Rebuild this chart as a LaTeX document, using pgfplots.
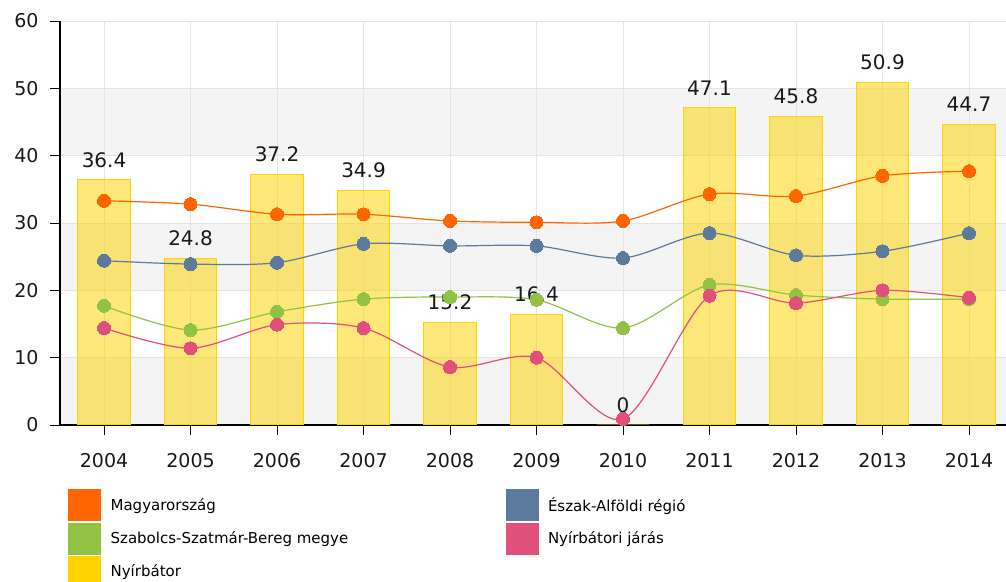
\documentclass[border=0pt]{standalone}
\usepackage{fontspec}
\setmainfont{DejaVu Sans}
\usepackage{pgfplots}
\pgfplotsset{compat=1.18}
\definecolor{cOr}{RGB}{255,102,0}
\definecolor{cBl}{RGB}{92,122,155}
\definecolor{cGr}{RGB}{146,194,68}
\definecolor{cPk}{RGB}{224,80,122}
\definecolor{cYe}{RGB}{255,210,0}
\definecolor{cBand}{RGB}{244,244,244}
\definecolor{cGrid}{RGB}{228,228,228}
\pgfplotsset{sq/.style={legend image code/.code={\fill[#1] (0pt,-15.5pt) rectangle (32pt,15.5pt);}}}
\begin{document}
\begin{tikzpicture}
\begin{axis}[
  at={(60pt,156pt)}, anchor=south west, scale only axis,
  width=946pt, height=404pt,
  set layers=standard,
  xmin=-0.509, xmax=10.428, ymin=0, ymax=60,
  axis x line*=bottom, axis y line*=left,
  axis line style={black, line width=1.1pt},
  xtick={0,...,10}, xticklabels={2004,2005,2006,2007,2008,2009,2010,2011,2012,2013,2014},
  ytick={0,10,...,60},
  grid=major, major grid style={cGrid, line width=0.9pt},
  tick align=outside, major tick length=10pt,
  tick style={black, line width=0.9pt},
  /pgf/number format/assume math mode=true,
  ticklabel style={font=\fontsize{19}{21}\selectfont, text=black!90},
  xticklabel style={yshift=-15pt},
  yticklabel style={xshift=-8pt},
  legend columns=2, legend cell align=left,
  legend style={at={(rel axis cs:0,0)}, anchor=north west, xshift=8pt, yshift=-64pt,
    draw=none, fill=none, inner sep=0pt, row sep=2pt,
    font=\fontsize{15}{17}\selectfont,
    nodes={inner sep=0pt},
    /tikz/every odd column/.append style={column sep=10pt}},
]
\begin{pgfonlayer}{axis background}
\fill[cBand] (axis cs:-0.509,0) rectangle (axis cs:10.428,10);
\fill[cBand] (axis cs:-0.509,20) rectangle (axis cs:10.428,30);
\fill[cBand] (axis cs:-0.509,40) rectangle (axis cs:10.428,50);
\end{pgfonlayer}
% Nyirbator bars
\addplot[ybar, bar width=0.61, draw=cYe, line width=1pt, fill=cYe, fill opacity=0.52,
  nodes near coords,
  nodes near coords style={font=\fontsize{20}{22}\selectfont, text=black!90, text opacity=1, inner sep=0pt, anchor=south, yshift=12pt},
  forget plot] coordinates {
(0,36.4) (1,24.8) (2,37.2) (3,34.9) (4,15.2) (5,16.4) (6,0) (7,47.1) (8,45.8) (9,50.9) (10,44.7)};
% Magyarorszag
\addplot[cOr, line width=1.2pt, smooth, mark=*, mark size=6.5pt, mark options={fill=cOr, draw=cOr, line width=0pt}, forget plot] coordinates {
(0,33.3) (1,32.8) (2,31.3) (3,31.3) (4,30.3) (5,30.1) (6,30.3) (7,34.3) (8,34.0) (9,37.0) (10,37.7)};
% Eszak-Alfold
\addplot[cBl, line width=1.2pt, smooth, mark=*, mark size=6.5pt, mark options={fill=cBl, draw=cBl, line width=0pt}, forget plot] coordinates {
(0,24.4) (1,23.9) (2,24.1) (3,26.9) (4,26.6) (5,26.6) (6,24.8) (7,28.5) (8,25.2) (9,25.8) (10,28.5)};
% Szabolcs
\addplot[cGr, line width=1.2pt, smooth, mark=*, mark size=6.5pt, mark options={fill=cGr, draw=cGr, line width=0pt}, forget plot] coordinates {
(0,17.7) (1,14.1) (2,16.8) (3,18.7) (4,19.0) (5,18.6) (6,14.4) (7,20.8) (8,19.3) (9,18.7) (10,18.7)};
% Nyirbatori jaras
\addplot[cPk, line width=1.2pt, smooth, mark=*, mark size=6.5pt, mark options={fill=cPk, draw=cPk, line width=0pt}, forget plot] coordinates {
(0,14.4) (1,11.4) (2,14.9) (3,14.4) (4,8.6) (5,10.0) (6,0.9) (7,19.2) (8,18.1) (9,20.0) (10,18.9)};
\addlegendimage{sq=cOr}\addlegendentry{\makebox[395pt][l]{Magyarország}}
\addlegendimage{sq=cBl}\addlegendentry{Észak-Alföldi régió}
\addlegendimage{sq=cGr}\addlegendentry{\makebox[395pt][l]{Szabolcs-Szatmár-Bereg megye}}
\addlegendimage{sq=cPk}\addlegendentry{Nyírbátori járás}
\addlegendimage{sq=cYe}\addlegendentry{Nyírbátor}
\end{axis}
\pgfresetboundingbox
\path[use as bounding box] (0,0) rectangle (1006pt,581pt);
\end{tikzpicture}
\end{document}
